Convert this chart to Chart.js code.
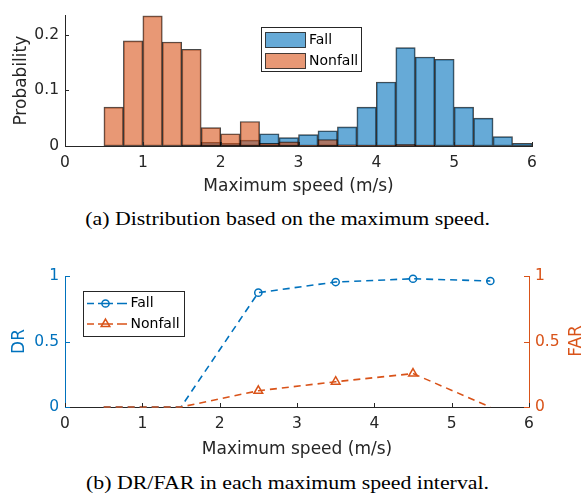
<!DOCTYPE html>
<html><head><meta charset="utf-8">
<script src="https://cdn.jsdelivr.net/npm/chart.js@4/dist/chart.umd.min.js"></script>
<style>
html,body{margin:0;padding:0;background:#fff;}
body{width:587px;height:493px;position:relative;overflow:hidden;}
canvas{position:absolute;left:0;}
#c1{top:0;}
#c2{top:250px;}
.cap{position:absolute;left:0;width:575px;text-align:center;font-family:"Liberation Serif","Times New Roman",serif;font-size:19.5px;line-height:24px;color:#000;white-space:nowrap;transform:scaleX(1.12);transform-origin:287px 50%;}
</style></head><body>
<canvas id="c1" width="587" height="201"></canvas>
<div class="cap" style="top:207px">(a) Distribution based on the maximum speed.</div>
<canvas id="c2" width="587" height="214"></canvas>
<div class="cap" style="top:471px">(b) DR/FAR in each maximum speed interval.</div>
<script>
// ---------- data ----------
const binCenters = [0.625,0.875,1.125,1.375,1.625,1.875,2.125,2.375,2.625,2.875,3.125,3.375,3.625,3.875,4.125,4.375,4.625,4.875,5.125,5.375,5.625,5.875];
const fallProb    = [0,0,0,0,0.002,0.0065,0.005,0.0105,0.022,0.015,0.0205,0.0275,0.0345,0.070,0.115,0.177,0.160,0.156,0.070,0.050,0.017,0.005];
const nonfallProb = [0.070,0.189,0.234,0.187,0.174,0.033,0.022,0.044,0.005,0.0075,0.001,0.0117,0.002,0.001,0.001,0.003,0.001,0,0.001,0,0,0];
const intervalCenters = [0.5,1.5,2.5,3.5,4.5,5.5];
const fallDR     = [0,0,0.873,0.954,0.979,0.962];
const nonfallFAR = [0,0,0.124,0.193,0.255,0];
const xTicks = [0,1,2,3,4,5,6];
const seriesNames = ['Fall','Nonfall'];

// ---------- styles ----------
const FONT = '"DejaVu Sans", Verdana, sans-serif';
const AX = '#262626';
const BLUE = '#0072BD';
const ORANGE = '#D95319';
const BLUE_FILL = 'rgba(0,114,189,0.6)';
const ORANGE_FILL = 'rgba(217,83,25,0.6)';
const EDGE = 'rgba(0,0,0,0.72)';
const fmt = (v) => String(+Number(v).toFixed(3));

function drawInward(chart, list){
  const ctx = chart.ctx, a = chart.chartArea;
  ctx.save(); ctx.lineWidth = 1;
  list.forEach(ax => {
    const s = chart.scales[ax.id];
    ctx.strokeStyle = ax.color;
    ctx.beginPath();
    s.ticks.forEach(t => {
      const p = Math.round(s.getPixelForValue(t.value)) + 0.5;
      if (s.isHorizontal()) { ctx.moveTo(p, a.bottom); ctx.lineTo(p, a.bottom - ax.len); }
      else if (s.position === 'left') { ctx.moveTo(a.left, p); ctx.lineTo(a.left + ax.len, p); }
      else { ctx.moveTo(a.right, p); ctx.lineTo(a.right - ax.len, p); }
    });
    ctx.stroke();
  });
  ctx.restore();
}

// ---------- top chart ----------
const topPlugin = {
  id: 'topDeco',
  afterDraw(chart){
    drawInward(chart, [{id:'x', color:AX, len:4}, {id:'y', color:AX, len:4}]);
    const ctx = chart.ctx;
    ctx.save();
    ctx.fillStyle = '#fff'; ctx.fillRect(261, 27, 100, 44);
    ctx.strokeStyle = AX; ctx.lineWidth = 1; ctx.strokeRect(261.5, 27.5, 100, 44);
    const rows = [32.5, 53.5];
    chart.data.datasets.forEach((ds, i) => {
      ctx.fillStyle = ds.backgroundColor;
      ctx.fillRect(265.5, rows[i], 40, 15);
      ctx.strokeStyle = EDGE; ctx.strokeRect(265.5, rows[i], 40, 15);
      ctx.fillStyle = '#000'; ctx.font = '14px ' + FONT;
      ctx.textAlign = 'left'; ctx.textBaseline = 'middle';
      ctx.fillText(ds.label, 309, rows[i] + 8);
    });
    ctx.restore();
  }
};

new Chart(document.getElementById('c1'), {
  type: 'bar',
  data: {
    datasets: [
      { label: seriesNames[0], data: binCenters.map((c,i)=>({x:c, y:fallProb[i]})),
        backgroundColor: BLUE_FILL, borderColor: EDGE, borderWidth: 1, borderSkipped: false, order: 2 },
      { label: seriesNames[1], data: binCenters.map((c,i)=>({x:c, y:nonfallProb[i]})),
        backgroundColor: ORANGE_FILL, borderColor: EDGE, borderWidth: 1, borderSkipped: false, order: 1 }
    ]
  },
  options: {
    responsive: false, animation: false, devicePixelRatio: 1,
    layout: { padding: { top: 13, right: 55, bottom: 0, left: 0 } },
    plugins: { legend: { display: false }, tooltip: { enabled: false } },
    datasets: { bar: { grouped: false, barPercentage: 1, categoryPercentage: 1 } },
    scales: {
      x: {
        type: 'linear', min: 0, max: 6, offset: false,
        afterBuildTicks(s){ s.ticks = xTicks.map(v=>({value:v})); },
        grid: { display: false, drawTicks: false },
        border: { display: true, color: AX, width: 1 },
        ticks: { color: AX, padding: 8, maxRotation: 0, autoSkip: false, callback: fmt, font: { family: FONT, size: 15.5 } },
        title: { display: true, text: 'Maximum speed (m/s)', color: AX, font: { family: FONT, size: 17 }, padding: { top: 0, bottom: 4 } },
        afterFit(s){ s.height = 55; }
      },
      y: {
        min: 0, max: 0.235,
        grid: { display: false, drawTicks: false },
        border: { display: true, color: AX, width: 1 },
        ticks: { stepSize: 0.1, includeBounds: false, color: AX, padding: 6, callback: fmt, font: { family: FONT, size: 15.5 } },
        title: { display: true, text: 'Probability', color: AX, font: { family: FONT, size: 17 }, padding: { top: 11, bottom: 0 } },
        afterFit(s){ s.width = 65; }
      }
    }
  },
  plugins: [topPlugin]
});

// ---------- bottom chart ----------
const botPlugin = {
  id: 'botDeco',
  afterDraw(chart){
    drawInward(chart, [{id:'x', color:AX, len:4}, {id:'y', color:BLUE, len:5}, {id:'y2', color:ORANGE, len:5}]);
    const ctx = chart.ctx;
    ctx.save();
    // FAR title (reads bottom to top)
    ctx.translate(577, 91); ctx.rotate(-Math.PI/2);
    ctx.fillStyle = ORANGE; ctx.font = '17px ' + FONT; ctx.textAlign = 'center'; ctx.textBaseline = 'middle';
    ctx.fillText('FAR', 0, 0);
    ctx.restore();
    // legend
    ctx.save();
    ctx.fillStyle = '#fff'; ctx.fillRect(83, 41, 101, 45);
    ctx.strokeStyle = AX; ctx.lineWidth = 1; ctx.strokeRect(83.5, 41.5, 101, 45);
    const rows = [53.5, 74];
    chart.data.datasets.forEach((ds, i) => {
      const y = rows[i];
      ctx.strokeStyle = ds.borderColor; ctx.lineWidth = 1.5;
      ctx.beginPath(); ctx.moveTo(87, y); ctx.lineTo(94, y); ctx.moveTo(117, y); ctx.lineTo(127, y); ctx.stroke();
      ctx.beginPath(); ctx.moveTo(98, y); ctx.lineTo(113, y); ctx.stroke();
      ctx.fillStyle = 'rgba(0,0,0,0)';
      ctx.strokeStyle = ds.borderColor;
      Chart.helpers.drawPoint(ctx, { pointStyle: ds.pointStyle, rotation: 0, radius: ds.legendRadius, borderWidth: 1.5 }, 105.5, y);
      ctx.fillStyle = '#000'; ctx.font = '14px ' + FONT; ctx.textAlign = 'left'; ctx.textBaseline = 'middle';
      ctx.fillText(ds.label, 130.5, y);
    });
    ctx.restore();
  }
};

// markers only where the rate is non-zero
const markerSize = (r) => (ctx) => (ctx.raw && ctx.raw.y > 0 ? r : 0);

new Chart(document.getElementById('c2'), {
  type: 'line',
  data: {
    datasets: [
      { label: seriesNames[0], data: intervalCenters.map((x,i)=>({x, y:fallDR[i]})), yAxisID: 'y',
        borderColor: BLUE, borderWidth: 1.6, borderDash: [7,5], fill: false, tension: 0,
        pointStyle: 'circle', pointRadius: markerSize(3.6), pointBorderColor: BLUE, pointBackgroundColor: 'rgba(0,0,0,0)',
        pointBorderWidth: 1.5, legendRadius: 3.6, order: 2, clip: false },
      { label: seriesNames[1], data: intervalCenters.map((x,i)=>({x, y:nonfallFAR[i]})), yAxisID: 'y2',
        borderColor: ORANGE, borderWidth: 1.6, borderDash: [7,5], fill: false, tension: 0,
        pointStyle: 'triangle', pointRadius: markerSize(5), pointBorderColor: ORANGE, pointBackgroundColor: 'rgba(0,0,0,0)',
        pointBorderWidth: 1.5, legendRadius: 5, order: 1, clip: false }
    ]
  },
  options: {
    responsive: false, animation: false, devicePixelRatio: 1,
    layout: { padding: { top: 26, right: 0, bottom: 0, left: 0 } },
    plugins: { legend: { display: false }, tooltip: { enabled: false } },
    scales: {
      x: {
        type: 'linear', min: 0, max: 6,
        afterBuildTicks(s){ s.ticks = xTicks.map(v=>({value:v})); },
        grid: { display: false, drawTicks: false },
        border: { display: true, color: AX, width: 1 },
        ticks: { color: AX, padding: 8, maxRotation: 0, autoSkip: false, callback: fmt, font: { family: FONT, size: 15.5 } },
        title: { display: true, text: 'Maximum speed (m/s)', color: AX, font: { family: FONT, size: 17 }, padding: { top: 0, bottom: 4 } },
        afterFit(s){ s.height = 57; }
      },
      y: {
        position: 'left', min: 0, max: 1,
        grid: { display: false, drawTicks: false },
        border: { display: true, color: BLUE, width: 1 },
        ticks: { stepSize: 0.5, color: BLUE, padding: 6, callback: fmt, font: { family: FONT, size: 15.5 } },
        title: { display: true, text: 'DR', color: BLUE, font: { family: FONT, size: 17 }, padding: { top: 9, bottom: 0 } },
        afterFit(s){ s.width = 65; }
      },
      y2: {
        position: 'right', min: 0, max: 1,
        grid: { display: false, drawTicks: false },
        border: { display: true, color: ORANGE, width: 1 },
        ticks: { stepSize: 0.5, color: ORANGE, padding: 6, callback: fmt, font: { family: FONT, size: 15.5 } },
        afterFit(s){ s.width = 58; }
      }
    }
  },
  plugins: [botPlugin]
});
</script>
</body></html>
